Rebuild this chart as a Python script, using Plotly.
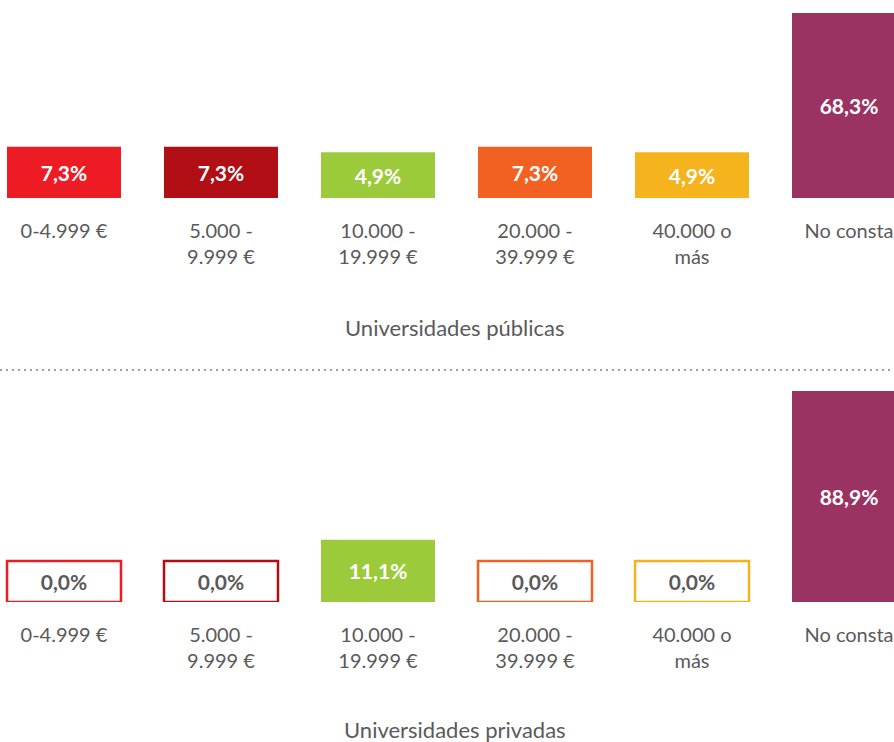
import plotly.graph_objects as go

# ---- data ----
categories = ["0-4.999 €", "5.000 -<br>9.999 €", "10.000 -<br>19.999 €",
              "20.000 -<br>39.999 €", "40.000 o<br>más", "No consta"]
publicas = [7.3, 7.3, 4.9, 7.3, 4.9, 68.3]
privadas = [0.0, 0.0, 11.1, 0.0, 0.0, 88.9]
colors = ["#ED1C24", "#B10E16", "#9BCB3B", "#F26122", "#F5B41D", "#9B3362"]
panel_titles = ["Universidades públicas", "Universidades privadas"]

# minimum visible bar length (label room), in % units, per panel
PAD = [16.0, 21.5]
FONT = "Lato, 'Open Sans', sans-serif"
GREY = "#5a5a5a"


def fmt(v):
    return f"{v:.1f}".replace(".", ",") + "%"


fig = go.Figure()
panels = [publicas, privadas]
axes = [("x", "y"), ("x2", "y2")]
for vals, pad, (xa, ya) in zip(panels, PAD, axes):
    fill = [c if v > 0 else "white" for v, c in zip(vals, colors)]
    lw = [0 if v > 0 else 2.5 for v in vals]
    tc = ["white" if v > 0 else GREY for v in vals]
    fig.add_trace(go.Bar(
        x=list(range(len(categories))),
        y=[v + pad for v in vals],
        customdata=vals,
        text=[fmt(v) for v in vals],
        textposition="inside",
        insidetextanchor="middle",
        constraintext="none",
        textfont=dict(family=FONT, size=21, color=tc, weight="bold"),
        marker=dict(color=fill, line=dict(color=colors, width=lw)),
        hovertemplate="%{customdata:.1f}%<extra></extra>",
        xaxis=xa, yaxis=ya, showlegend=False,
    ))

H = 742
xrange = [-64 / 157, (894 - 64) / 157]
xcommon = dict(range=xrange, tickmode="array", tickvals=list(range(len(categories))),
               ticktext=categories, showgrid=False, zeroline=False, showline=False,
               ticks="", ticklabelstandoff=19,
               tickfont=dict(family=FONT, size=20, color=GREY))
ycommon = dict(visible=False, showgrid=False, zeroline=False)

fig.update_layout(
    width=894, height=H,
    margin=dict(l=0, r=0, t=0, b=0),
    paper_bgcolor="white", plot_bgcolor="white",
    bargap=0.274,
    xaxis=dict(domain=[0, 1], anchor="y", **xcommon),
    yaxis=dict(domain=[(H - 198) / H, (H - 13) / H], anchor="x",
               range=[0, max(publicas) + PAD[0]], **ycommon),
    xaxis2=dict(domain=[0, 1], anchor="y2", **xcommon),
    yaxis2=dict(domain=[(H - 602) / H, (H - 391) / H], anchor="x2",
                range=[0, max(privadas) + PAD[1]], **ycommon),
    annotations=[
        dict(text=panel_titles[0], xref="paper", yref="paper", x=455 / 894,
             y=(H - 327) / H, xanchor="center", yanchor="middle", showarrow=False,
             font=dict(family=FONT, size=22, color=GREY)),
        dict(text=panel_titles[1], xref="paper", yref="paper", x=455 / 894,
             y=(H - 729) / H, xanchor="center", yanchor="middle", showarrow=False,
             font=dict(family=FONT, size=22, color=GREY)),
    ],
    shapes=[dict(type="line", xref="paper", yref="paper", x0=0, x1=1,
                 y0=(H - 370) / H, y1=(H - 370) / H,
                 line=dict(color="#a0a0a0", width=2, dash="2px,4px"))],
)

fig.write_html("out.html",
               config={"displayModeBar": False},
               post_script="document.body.style.margin='0';"
                           "document.body.style.overflow='hidden';")
